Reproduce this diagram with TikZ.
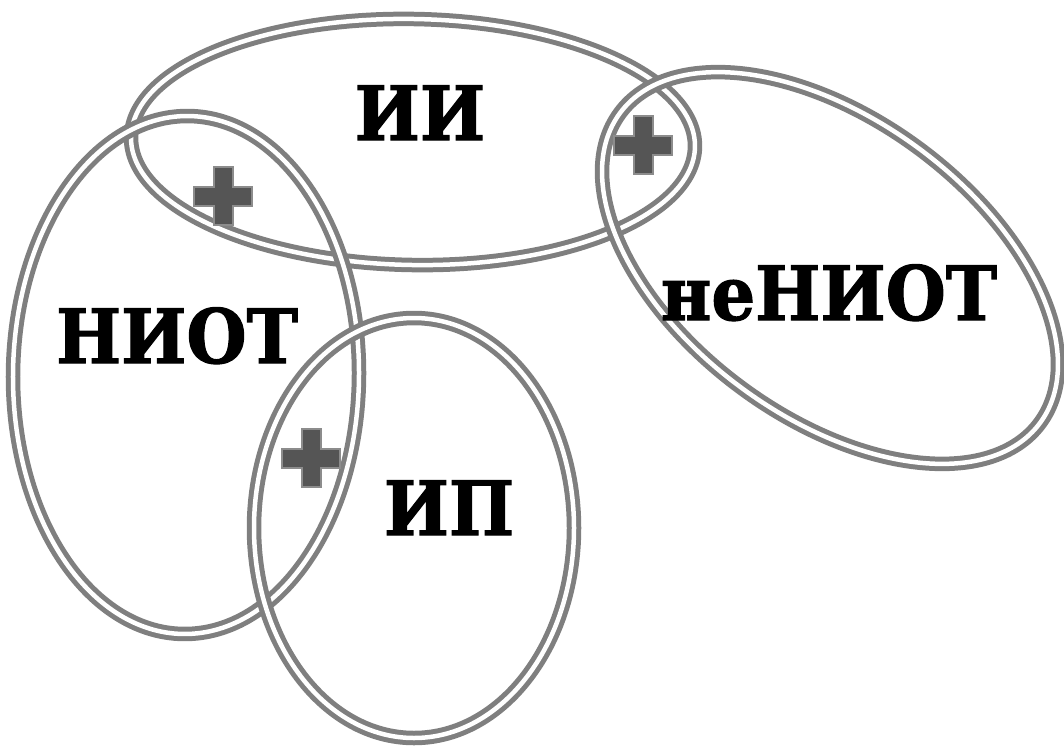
\documentclass[tikz,border=0pt]{standalone}
\usepackage{fontspec}
\setmainfont{DejaVu Serif}
\newfontfamily\labelfont{DejaVu Serif Bold}[FakeStretch=0.92, FakeBold=1.5]
\usetikzlibrary{shapes.geometric}
\definecolor{ringgray}{HTML}{7F7F7F}
\definecolor{plusfill}{HTML}{555555}
\definecolor{plusedge}{HTML}{8C8C8C}
\tikzset{
  ring/.style={ellipse, draw=ringgray, line width=5pt, double=white,
    double distance=4.5pt, inner sep=0pt, fill=none},
  label/.style={font=\labelfont\fontsize{75}{75}\selectfont, text=black,
    inner sep=0pt, anchor=base},
  plus/.pic={
    \fill[plusfill, draw=plusedge, line width=2pt]
      (-9.5,-29) -- (9.5,-29) -- (9.5,-9.5) -- (29,-9.5) -- (29,9.5) -- (9.5,9.5)
      -- (9.5,29) -- (-9.5,29) -- (-9.5,9.5) -- (-29,9.5) -- (-29,-9.5)
      -- (-9.5,-9.5) -- cycle;
  }
}
\begin{document}
\begin{tikzpicture}[x=1pt, y=-1pt]
  \useasboundingbox (0,0) rectangle (1064,752);
  % the four sets
  \node[ring, minimum width=564pt, minimum height=246pt, rotate=-1] (ii) at (413,142) {};
  \node[ring, minimum width=346pt, minimum height=518pt, rotate=-0.5] (niot) at (186,375) {};
  \node[ring, minimum width=320pt, minimum height=420pt] (ip) at (414,528) {};
  \node[ring, minimum width=522pt, minimum height=298pt, rotate=-36.4] (neniot) at (830,268) {};
  % set names
  \node[label] (tii) at (420,140) {ИИ};
  \node[label] (tniot) at (177,363) {НИОТ};
  \node[label] (tip) at (449,535) {ИП};
  \node[label] (tneniot) at (829,320) {неНИОТ};
  % intersection marks
  \pic at (223,196) {plus};
  \pic at (643,145) {plus};
  \pic at (311,458) {plus};
\end{tikzpicture}
\end{document}
